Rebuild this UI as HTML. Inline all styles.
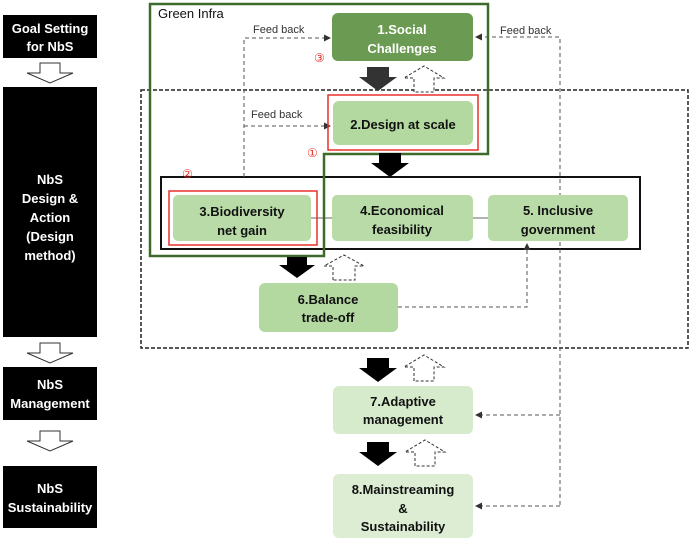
<!DOCTYPE html>
<html><head><meta charset="utf-8"><style>
body{margin:0;background:#fff;width:693px;height:540px;overflow:hidden}
svg{display:block}
text{font-family:"Liberation Sans",sans-serif}
.w{fill:#fff;font-weight:bold;font-size:13px}
.g{fill:#111;font-weight:bold;font-size:13px}
.f{fill:#333;font-size:11px}
.d{stroke:#555;stroke-width:1;stroke-dasharray:4,3;fill:none}
</style></head><body>
<svg width="693" height="540" viewBox="0 0 693 540">
<defs>
<marker id="ah" markerWidth="7" markerHeight="7" refX="6" refY="3.5" orient="auto"><path d="M0,0L7,3.5L0,7z" fill="#333"/></marker>
</defs>
<!-- left column -->
<rect x="3" y="15" width="94" height="43" fill="#000"/>
<text class="w" text-anchor="middle"><tspan x="50" y="33">Goal Setting</tspan><tspan x="50" y="51">for NbS</tspan></text>
<path d="M40,63h20v10h13l-23,10l-23,-10h13z" fill="#fff" stroke="#333"/>
<rect x="3" y="87" width="94" height="250" fill="#000"/>
<text class="w" text-anchor="middle"><tspan x="50" y="184">NbS</tspan><tspan x="50" y="203">Design &amp;</tspan><tspan x="50" y="222">Action</tspan><tspan x="50" y="241">(Design</tspan><tspan x="50" y="260">method)</tspan></text>
<path d="M40,343h20v10h13l-23,10l-23,-10h13z" fill="#fff" stroke="#333"/>
<rect x="3" y="367" width="94" height="53" fill="#000"/>
<text class="w" text-anchor="middle"><tspan x="50" y="389">NbS</tspan><tspan x="50" y="408">Management</tspan></text>
<path d="M40,431h20v10h13l-23,10l-23,-10h13z" fill="#fff" stroke="#333"/>
<rect x="3" y="466" width="94" height="62" fill="#000"/>
<text class="w" text-anchor="middle"><tspan x="50" y="493">NbS</tspan><tspan x="50" y="512">Sustainability</tspan></text>

<!-- big dashed box -->
<rect x="141" y="90" width="547" height="258" fill="none" stroke="#222" stroke-width="1.5" stroke-dasharray="4,2"/>
<!-- black row box -->
<rect x="161" y="177" width="479" height="72" fill="none" stroke="#111" stroke-width="2"/>
<!-- connecting lines -->
<line x1="311" y1="218" x2="332" y2="218" stroke="#666"/>
<line x1="473" y1="218" x2="488" y2="218" stroke="#666"/>

<!-- feedback dashed -->
<path class="d" d="M244,177V38H330" marker-end="url(#ah)"/>
<path class="d" d="M244,126H330" marker-end="url(#ah)"/>
<path class="d" d="M560,505V37H476" marker-end="url(#ah)"/>
<path class="d" d="M560,415H476" marker-end="url(#ah)"/>
<path class="d" d="M560,506H476" marker-end="url(#ah)"/>
<path class="d" d="M398,307H527V244" marker-end="url(#ah)"/>
<text class="f" x="253" y="33">Feed back</text>
<text class="f" x="251" y="118">Feed back</text>
<text class="f" x="500" y="34">Feed back</text>

<!-- boxes -->
<rect x="332" y="13" width="141" height="48" rx="6" fill="#6b9a52"/>
<text class="w" text-anchor="middle" font-size="14"><tspan x="402" y="34">1.Social</tspan><tspan x="402" y="53">Challenges</tspan></text>
<rect x="333" y="101" width="140" height="44" rx="6" fill="#b3d9a0"/>
<rect x="328" y="95" width="150" height="55" fill="none" stroke="#e8312b" stroke-width="1.5"/>
<text class="g" x="403" y="129" text-anchor="middle" font-weight="normal" font-size="14">2.Design at scale</text>
<rect x="173" y="195" width="138" height="46" rx="5" fill="#b8dba8"/>
<rect x="169" y="191" width="148" height="54" fill="none" stroke="#e8312b" stroke-width="1.5"/>
<text class="g" text-anchor="middle" font-weight="normal" font-size="14"><tspan x="242" y="216">3.Biodiversity</tspan><tspan x="242" y="235">net gain</tspan></text>
<rect x="332" y="195" width="141" height="46" rx="5" fill="#b8dba8"/>
<text class="g" text-anchor="middle" font-size="14"><tspan x="402" y="215">4.Economical</tspan><tspan x="402" y="234">feasibility</tspan></text>
<rect x="488" y="195" width="140" height="46" rx="5" fill="#b8dba8"/>
<text class="g" text-anchor="middle" font-size="14"><tspan x="558" y="215">5. Inclusive</tspan><tspan x="558" y="234">government</tspan></text>
<rect x="259" y="283" width="139" height="49" rx="6" fill="#b3d9a0"/>
<text class="g" text-anchor="middle"><tspan x="328" y="304">6.Balance</tspan><tspan x="328" y="322">trade-off</tspan></text>
<rect x="333" y="386" width="140" height="48" rx="6" fill="#d6ebcb"/>
<text class="g" text-anchor="middle"><tspan x="403" y="406">7.Adaptive</tspan><tspan x="403" y="424">management</tspan></text>
<rect x="333" y="474" width="140" height="64" rx="6" fill="#dcedd3"/>
<text class="g" text-anchor="middle"><tspan x="403" y="494">8.Mainstreaming</tspan><tspan x="403" y="513">&amp;</tspan><tspan x="403" y="531">Sustainability</tspan></text>

<!-- green infra outline -->
<path d="M150,4H488V154H324V256H150Z" fill="none" stroke="#3d6b2b" stroke-width="2.5"/>
<text x="158" y="18" font-size="13" fill="#111">Green Infra</text>
<text x="314" y="62" font-size="12" fill="#e8312b">③</text>
<text x="307" y="157" font-size="12" fill="#e8312b">①</text>
<text x="182" y="178" font-size="12" fill="#e8312b">②</text>

<!-- flow arrows -->
<path d="M367,67h22v10h8l-19,14l-19,-14h8z" fill="#333"/>
<path d="M414,92v-14h-10l20,-12l20,12h-10v14z" fill="#fff" stroke="#333" stroke-dasharray="3,2"/>
<path d="M379,153h22v10h8l-19,14l-19,-14h8z" fill="#000"/>
<path d="M287,257h20v8h8l-18,13l-18,-13h8z" fill="#000"/>
<path d="M333,280v-14h-9l20,-11l20,11h-9v14z" fill="#fff" stroke="#333" stroke-dasharray="3,2"/>
<path d="M367,358h22v10h8l-19,14l-19,-14h8z" fill="#000"/>
<path d="M414,381v-14h-10l20,-12l20,12h-10v14z" fill="#fff" stroke="#333" stroke-dasharray="3,2"/>
<path d="M367,442h22v10h8l-19,14l-19,-14h8z" fill="#000"/>
<path d="M415,466v-14h-10l20,-12l20,12h-10v14z" fill="#fff" stroke="#333" stroke-dasharray="3,2"/>
</svg>
</body></html>
